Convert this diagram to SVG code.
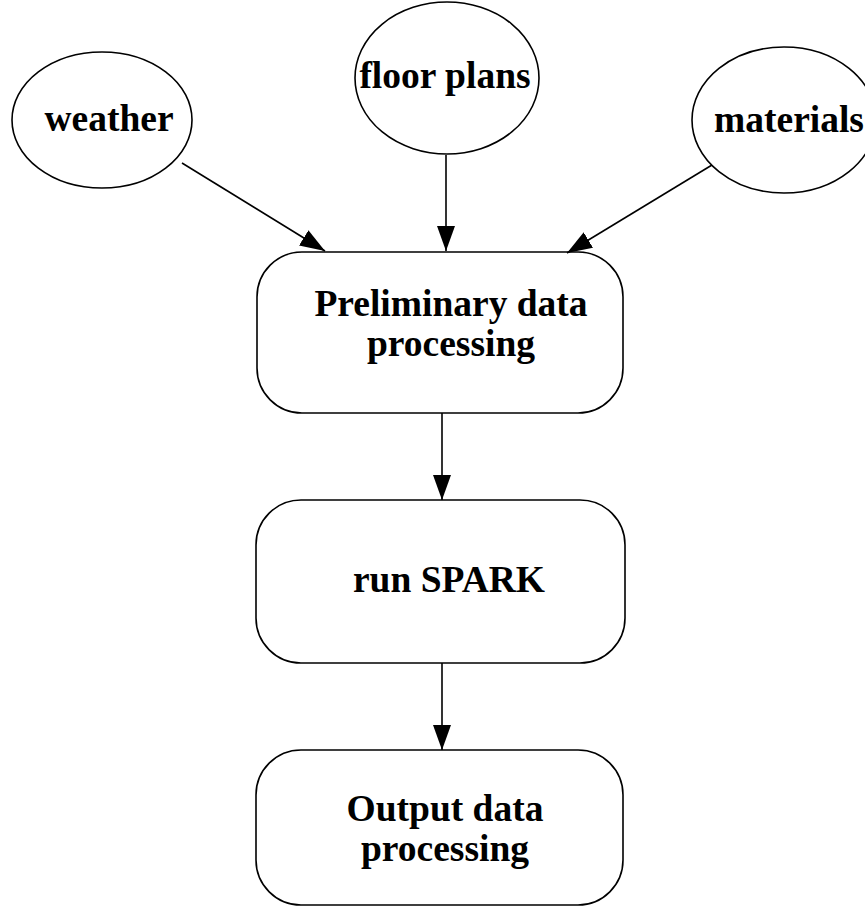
<svg xmlns="http://www.w3.org/2000/svg" width="865" height="909" viewBox="0 0 865 909">
<style>
.n{fill:none;stroke:#000;stroke-width:1.6}
.t{font-family:"Liberation Serif","Times New Roman",serif;font-weight:bold;font-size:37.5px;fill:#000;text-anchor:middle}
.c{stroke:#000;stroke-width:1.6;fill:none;marker-end:url(#ah)}
</style>
<defs>
<marker id="ah" markerUnits="userSpaceOnUse" markerWidth="26" markerHeight="18" refX="25" refY="9" orient="auto">
<path d="M0,0 L25,9 L0,18 Z" fill="#000"/>
</marker>
</defs>
<rect width="865" height="909" fill="#fff"/>
<g id="weather"><ellipse class="n" cx="102" cy="120" rx="90" ry="68"/><text class="t" x="109" y="131">weather</text></g>
<g id="floor-plans"><ellipse class="n" cx="447" cy="78" rx="92" ry="76"/><text class="t" x="445" y="88">floor plans</text></g>
<g id="materials"><ellipse class="n" cx="784" cy="120" rx="92" ry="73"/><text class="t" x="789" y="132">materials</text></g>
<g id="preliminary"><rect class="n" x="257" y="252" width="366" height="161" rx="45"/><text class="t" x="451" y="316">Preliminary data</text><text class="t" x="451" y="356">processing</text></g>
<g id="run-spark"><rect class="n" x="256" y="500" width="369" height="163" rx="45"/><text class="t" x="449" y="592">run SPARK</text></g>
<g id="output"><rect class="n" x="256" y="750" width="367" height="155" rx="45"/><text class="t" x="445" y="821">Output data</text><text class="t" x="445" y="861">processing</text></g>
<g id="connectors">
<line class="c" x1="182" y1="163" x2="325" y2="251"/>
<line class="c" x1="446" y1="155" x2="446" y2="251"/>
<line class="c" x1="712" y1="165" x2="567" y2="253"/>
<line class="c" x1="442" y1="413" x2="442" y2="500"/>
<line class="c" x1="442" y1="663" x2="442" y2="750"/>
</g>
</svg>
